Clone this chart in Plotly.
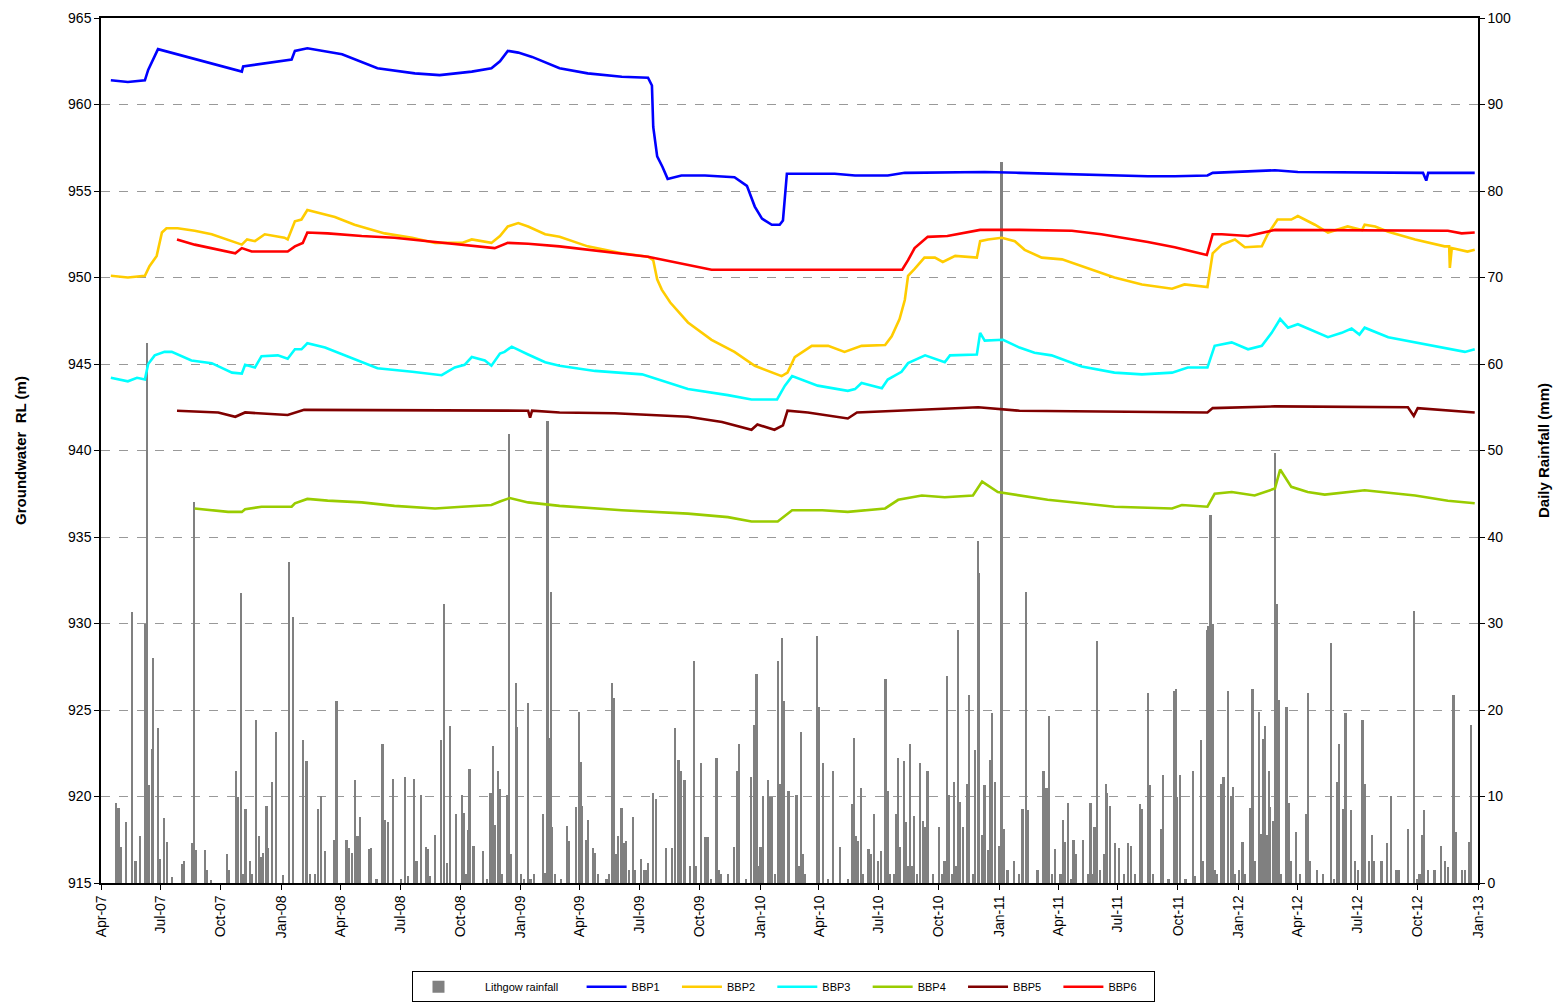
import plotly.graph_objects as go
import pandas as pd

# quarterly ticks on the date axis
tick_dates = pd.date_range("2007-04-01", "2013-01-01", freq="QS-JAN")

# daily rainfall (mm)
rain_dates = [
    "2007-04-24", "2007-04-28", "2007-05-02", "2007-05-10", "2007-05-19", "2007-05-24", "2007-05-31",
    "2007-06-08", "2007-06-11", "2007-06-14", "2007-06-18", "2007-06-20", "2007-06-27", "2007-07-01",
    "2007-07-06", "2007-07-11", "2007-07-19", "2007-08-03", "2007-08-06", "2007-08-19", "2007-08-21",
    "2007-08-25", "2007-09-07", "2007-09-10", "2007-09-16", "2007-10-11", "2007-10-13", "2007-10-25",
    "2007-10-27", "2007-11-01", "2007-11-04", "2007-11-08", "2007-11-15", "2007-11-18", "2007-11-24",
    "2007-11-28", "2007-12-02", "2007-12-05", "2007-12-10", "2007-12-12", "2007-12-19", "2007-12-24",
    "2008-01-04", "2008-01-13", "2008-01-20", "2008-02-04", "2008-02-09", "2008-02-14", "2008-02-22",
    "2008-02-27", "2008-03-02", "2008-03-08", "2008-03-22", "2008-03-26", "2008-04-10", "2008-04-14",
    "2008-04-19", "2008-04-23", "2008-04-27", "2008-05-01", "2008-05-14", "2008-05-17", "2008-05-26",
    "2008-06-04", "2008-06-07", "2008-06-12", "2008-06-20", "2008-07-02", "2008-07-08", "2008-07-13",
    "2008-07-22", "2008-07-26", "2008-08-02", "2008-08-09", "2008-08-12", "2008-08-16", "2008-08-23",
    "2008-09-01", "2008-09-06", "2008-09-10", "2008-09-15", "2008-09-24", "2008-10-03", "2008-10-06",
    "2008-10-09", "2008-10-12", "2008-10-15", "2008-10-21", "2008-11-04", "2008-11-10", "2008-11-16",
    "2008-11-18", "2008-11-20", "2008-11-23", "2008-11-27", "2008-11-30", "2008-12-04", "2008-12-11",
    "2008-12-14", "2008-12-17", "2008-12-25", "2008-12-27",
    "2009-01-01", "2009-01-06", "2009-01-12", "2009-01-16", "2009-01-21", "2009-02-04", "2009-02-07",
    "2009-02-11", "2009-02-13", "2009-02-16", "2009-02-18", "2009-02-23", "2009-03-04", "2009-03-13",
    "2009-03-16", "2009-03-27", "2009-03-31", "2009-04-03", "2009-04-05", "2009-04-11", "2009-04-14",
    "2009-04-21", "2009-04-25", "2009-04-29", "2009-05-12", "2009-05-16", "2009-05-21", "2009-05-24",
    "2009-05-27", "2009-05-30", "2009-06-04", "2009-06-08", "2009-06-11", "2009-06-15", "2009-06-21",
    "2009-06-24", "2009-07-04", "2009-07-08", "2009-07-12", "2009-07-14", "2009-07-22", "2009-07-27",
    "2009-08-11", "2009-08-20", "2009-08-25", "2009-08-30", "2009-09-02", "2009-09-08", "2009-09-17",
    "2009-09-22", "2009-09-26", "2009-10-03", "2009-10-10", "2009-10-14", "2009-10-18", "2009-10-27",
    "2009-10-30", "2009-11-03", "2009-11-13", "2009-11-23", "2009-11-27", "2009-11-30", "2009-12-11",
    "2009-12-18", "2009-12-23", "2009-12-27", "2009-12-30",
    "2010-01-02", "2010-01-06", "2010-01-13", "2010-01-16", "2010-01-19", "2010-01-24", "2010-01-29",
    "2010-02-01", "2010-02-04", "2010-02-07", "2010-02-14", "2010-02-26", "2010-03-01", "2010-03-05",
    "2010-03-08", "2010-03-11", "2010-03-29", "2010-04-01", "2010-04-07", "2010-04-15", "2010-04-23",
    "2010-05-04", "2010-05-16", "2010-05-22", "2010-05-25", "2010-05-28", "2010-05-31", "2010-06-04",
    "2010-06-08", "2010-06-16", "2010-06-20", "2010-06-24", "2010-06-30", "2010-07-05", "2010-07-12",
    "2010-07-15", "2010-07-18", "2010-07-25", "2010-07-28", "2010-07-31", "2010-08-03", "2010-08-09",
    "2010-08-12", "2010-08-16", "2010-08-18", "2010-08-22", "2010-08-25", "2010-08-29", "2010-09-03",
    "2010-09-07", "2010-09-10", "2010-09-14", "2010-09-22", "2010-10-02", "2010-10-06", "2010-10-10",
    "2010-10-14", "2010-10-17", "2010-10-21", "2010-10-24", "2010-10-27", "2010-10-30", "2010-11-03",
    "2010-11-07", "2010-11-13", "2010-11-16", "2010-11-22", "2010-11-26", "2010-11-30", "2010-12-02",
    "2010-12-06", "2010-12-10", "2010-12-16", "2010-12-18", "2010-12-22", "2010-12-26",
    "2011-01-01", "2011-01-05", "2011-01-09", "2011-01-14", "2011-01-24", "2011-02-01", "2011-02-06",
    "2011-02-12", "2011-02-15", "2011-03-01", "2011-03-10", "2011-03-13", "2011-03-16", "2011-03-19",
    "2011-03-23", "2011-03-28", "2011-04-05", "2011-04-09", "2011-04-12", "2011-04-16", "2011-04-22",
    "2011-04-25", "2011-04-29", "2011-05-09", "2011-05-17", "2011-05-21", "2011-05-24", "2011-05-27",
    "2011-05-31", "2011-06-04", "2011-06-10", "2011-06-13", "2011-06-15", "2011-06-20", "2011-06-27",
    "2011-07-03", "2011-07-11", "2011-07-17", "2011-07-22", "2011-07-28", "2011-08-04", "2011-08-08",
    "2011-08-17", "2011-08-19", "2011-08-24", "2011-09-06", "2011-09-09", "2011-09-17", "2011-09-25",
    "2011-09-28", "2011-09-30", "2011-10-05", "2011-10-13", "2011-10-24", "2011-10-27", "2011-11-06",
    "2011-11-09", "2011-11-15", "2011-11-17", "2011-11-20", "2011-11-24", "2011-11-27", "2011-11-30",
    "2011-12-06", "2011-12-10", "2011-12-17", "2011-12-21", "2011-12-24", "2011-12-28",
    "2012-01-03", "2012-01-08", "2012-01-12", "2012-01-19", "2012-01-23", "2012-01-27", "2012-02-02",
    "2012-02-05", "2012-02-08", "2012-02-11", "2012-02-14", "2012-02-17", "2012-02-19", "2012-02-23",
    "2012-02-27", "2012-03-01", "2012-03-04", "2012-03-07", "2012-03-15", "2012-03-18", "2012-03-21",
    "2012-03-30", "2012-04-05", "2012-04-14", "2012-04-17", "2012-04-20", "2012-04-30", "2012-05-10",
    "2012-05-22", "2012-05-26", "2012-05-31", "2012-06-03", "2012-06-09", "2012-06-13", "2012-06-21",
    "2012-06-28", "2012-07-02", "2012-07-09", "2012-07-12", "2012-07-19", "2012-07-23", "2012-07-26",
    "2012-08-07", "2012-08-15", "2012-08-21", "2012-08-30", "2012-09-02", "2012-09-16", "2012-09-26",
    "2012-09-30", "2012-10-04", "2012-10-08", "2012-10-11", "2012-10-17", "2012-10-27", "2012-11-06",
    "2012-11-12", "2012-11-16", "2012-11-25", "2012-11-29", "2012-12-08", "2012-12-12", "2012-12-19",
    "2012-12-22",
]
rain_mm = [
    9.2, 8.7, 4.2, 7.1, 31.3, 2.5, 5.4,
    29.9, 62.4, 11.3, 15.5, 26.0, 17.9, 2.8,
    7.5, 4.7, 0.7, 2.2, 2.5, 4.6, 44.1,
    3.8, 3.8, 1.5, 0.3, 3.3, 1.5, 13.0,
    9.9, 33.5, 1.0, 8.6, 2.6, 1.0, 18.9,
    5.4, 3.0, 3.5, 8.9, 4.0, 11.7, 17.5,
    0.9, 37.1, 30.8, 16.5, 14.1, 1.0, 1.0,
    8.6, 10.1, 3.7, 5.0, 21.0, 5.0, 4.0,
    3.5, 11.9, 5.4, 7.6, 3.9, 4.1, 0.5,
    16.1, 7.3, 7.1, 12.0, 0.5, 12.3, 0.8,
    12.0, 2.5, 10.2, 4.2, 3.9, 0.8, 5.6,
    16.5, 32.3, 2.3, 18.1, 8.0, 10.2, 8.1,
    1.0, 6.1, 13.2, 4.3, 3.7, 0.5, 10.4,
    6.1, 15.8, 6.7, 13.0, 10.9, 1.0, 10.2,
    51.9, 3.3, 23.1, 18.0,
    1.0, 0.5, 20.8, 0.5, 1.0, 8.0, 1.2,
    53.4, 16.8, 33.6, 6.5, 1.0, 0.5, 6.6,
    4.8, 8.8, 19.8, 14.0, 8.9, 5.0, 7.3,
    4.1, 3.5, 1.0, 0.5, 1.0, 23.1, 21.4,
    3.4, 5.4, 8.7, 4.6, 4.9, 1.5, 7.6,
    1.5, 2.8, 1.5, 1.5, 2.3, 10.4, 9.7,
    4.0, 4.0, 17.9, 14.2, 12.9, 11.9, 2.0,
    25.7, 2.0, 13.9, 5.3, 5.3, 0.5, 14.5,
    1.5, 1.0, 1.0, 4.2, 12.9, 16.1, 0.5,
    12.3, 18.3, 24.2, 2.0,
    4.2, 10.1, 11.9, 9.9, 9.9, 1.0, 25.7,
    11.5, 28.3, 21.0, 10.6, 10.2, 2.0, 17.5,
    3.4, 1.0, 28.6, 20.3, 13.9, 0.5, 13.0,
    4.2, 0.5, 9.1, 16.8, 5.4, 4.9, 11.0,
    1.0, 3.9, 3.4, 8.0, 2.5, 3.7, 23.6,
    10.6, 1.0, 1.0, 8.0, 14.4, 4.2, 14.1,
    7.1, 2.0, 16.1, 2.0, 7.7, 1.0, 13.9,
    7.2, 6.5, 12.9, 1.0, 6.5, 1.0, 2.5,
    23.9, 10.2, 1.0, 11.7, 2.0, 29.3, 9.4,
    6.5, 11.5, 21.7, 1.0, 15.4, 39.5, 35.8,
    5.6, 11.3, 3.8, 14.2, 19.6, 11.7,
    4.3, 83.4, 6.3, 1.5, 2.6, 1.0, 8.6,
    33.6, 8.4, 1.5, 13.0, 11.0, 11.0, 19.3,
    1.0, 3.9, 1.0, 7.3, 4.7, 9.2, 0.5,
    5.0, 3.3, 5.0, 1.0, 9.2, 1.0, 6.5,
    28.0, 1.5, 3.3, 11.5, 10.4, 8.9, 4.6,
    4.1, 1.0, 4.6, 4.3, 1.0, 9.1, 8.6,
    22.0, 11.3, 1.0, 6.3, 12.5, 0.5, 22.2,
    22.4, 10.0, 12.5, 0.5, 13.0, 0.8, 16.5,
    2.5, 29.3, 29.7, 42.5, 30.0, 1.5, 1.0,
    11.5, 12.3, 22.2, 10.1, 11.1, 1.0,
    1.5, 4.7, 1.0, 8.7, 22.4, 2.5, 19.8,
    5.7, 16.6, 18.1, 5.5, 12.9, 8.8, 7.2,
    49.7, 32.2, 21.1, 1.0, 20.4, 9.2, 2.5,
    5.9, 1.0, 8.0, 22.0, 2.5, 1.5, 1.0,
    27.8, 0.5, 11.7, 16.1, 8.6, 19.6, 8.4,
    2.5, 1.5, 18.9, 11.5, 2.5, 5.6, 2.5,
    2.5, 4.6, 10.1, 1.5, 1.5, 6.3, 31.4,
    0.5, 1.0, 5.6, 8.4, 1.5, 1.5, 4.3,
    2.5, 1.8, 21.7, 5.9, 1.5, 1.5, 4.7,
    18.3,
]

# groundwater levels (m RL)
bbp1_dates = ["2007-04-16", "2007-05-12", "2007-06-07", "2007-06-12", "2007-06-27", "2007-11-02",
              "2007-11-04", "2008-01-17", "2008-01-22", "2008-02-10", "2008-04-03", "2008-05-27",
              "2008-07-23", "2008-08-30", "2008-10-18", "2008-11-17", "2008-11-30", "2008-12-12",
              "2008-12-28", "2009-01-18", "2009-03-01", "2009-04-13", "2009-06-04", "2009-07-14",
              "2009-07-20", "2009-07-22", "2009-07-28", "2009-08-05", "2009-08-13", "2009-09-03",
              "2009-10-09", "2009-11-23", "2009-12-12", "2009-12-24", "2010-01-04", "2010-01-19",
              "2010-01-31", "2010-02-05", "2010-02-11", "2010-04-25", "2010-05-26", "2010-07-15",
              "2010-08-10", "2010-12-10", "2011-02-01", "2011-05-07", "2011-06-26", "2011-08-16",
              "2011-09-26", "2011-11-15", "2011-11-23", "2012-02-26", "2012-04-01", "2012-10-09",
              "2012-10-14", "2012-10-17", "2012-12-27"]
bbp1_rl = [961.4, 961.3, 961.4, 962.0, 963.2, 961.9,
           962.2, 962.6, 963.1, 963.25, 962.9, 962.1,
           961.8, 961.7, 961.9, 962.1, 962.5, 963.1,
           963.0, 962.75, 962.1, 961.8, 961.6, 961.55,
           961.1, 958.7, 957.0, 956.4, 955.7, 955.9,
           955.9, 955.8, 955.3, 954.1, 953.4, 953.05,
           953.05, 953.3, 956.0, 956.0, 955.9, 955.9,
           956.05, 956.1, 956.05, 955.95, 955.9, 955.85,
           955.85, 955.9, 956.05, 956.2, 956.1, 956.05,
           955.6, 956.05, 956.05]

bbp2_dates = ["2007-04-16", "2007-05-12", "2007-06-07", "2007-06-14", "2007-06-25", "2007-07-03",
              "2007-07-10", "2007-07-27", "2007-08-22", "2007-09-17", "2007-11-02", "2007-11-10",
              "2007-11-22", "2007-12-07", "2008-01-06", "2008-01-11", "2008-01-22", "2008-02-01",
              "2008-02-10", "2008-03-03", "2008-03-23", "2008-04-22", "2008-06-07", "2008-07-19",
              "2008-08-23", "2008-10-03", "2008-10-18", "2008-11-17", "2008-11-30", "2008-12-12",
              "2008-12-28", "2009-01-12", "2009-02-07", "2009-03-01", "2009-04-13", "2009-06-04",
              "2009-07-14", "2009-07-22", "2009-07-28", "2009-08-04", "2009-08-17", "2009-09-13",
              "2009-10-19", "2009-11-23", "2009-12-24", "2010-02-03", "2010-02-12", "2010-02-23",
              "2010-03-21", "2010-04-15", "2010-05-10", "2010-06-05", "2010-07-11", "2010-07-21",
              "2010-08-02", "2010-08-10", "2010-08-15", "2010-08-25", "2010-09-09", "2010-09-25",
              "2010-10-07", "2010-10-26", "2010-11-28", "2010-12-03", "2010-12-15", "2011-01-05",
              "2011-01-25", "2011-02-09", "2011-03-07", "2011-04-07", "2011-05-07", "2011-05-27",
              "2011-06-26", "2011-08-07", "2011-09-22", "2011-10-11", "2011-11-15", "2011-11-23",
              "2011-12-07", "2011-12-27", "2012-01-11", "2012-02-06", "2012-02-15", "2012-03-01",
              "2012-03-22", "2012-04-01", "2012-04-27", "2012-05-17", "2012-06-16", "2012-07-08",
              "2012-07-12", "2012-07-28", "2012-08-17", "2012-09-27", "2012-11-11", "2012-11-18",
              "2012-11-19", "2012-11-22", "2012-12-16", "2012-12-27"]
bbp2_rl = [950.1, 950.0, 950.1, 950.65, 951.25, 952.6,
           952.85, 952.85, 952.7, 952.5, 951.9, 952.2,
           952.1, 952.5, 952.3, 952.2, 953.25, 953.35,
           953.9, 953.7, 953.5, 953.05, 952.55, 952.3,
           952.0, 952.0, 952.2, 952.0, 952.4, 952.95,
           953.15, 952.95, 952.5, 952.35, 951.8, 951.4,
           951.2, 951.0, 949.9, 949.3, 948.55, 947.4,
           946.4, 945.7, 944.9, 944.3, 944.5, 945.4,
           946.05, 946.05, 945.7, 946.05, 946.1, 946.6,
           947.6, 948.7, 950.1, 950.5, 951.15, 951.15,
           950.9, 951.25, 951.15, 952.1, 952.2, 952.3,
           952.1, 951.6, 951.15, 951.05, 950.65, 950.4,
           950.0, 949.6, 949.35, 949.6, 949.45, 951.4,
           951.9, 952.2, 951.75, 951.8, 952.5, 953.35,
           953.35, 953.55, 953.05, 952.6, 952.95, 952.75,
           953.05, 952.95, 952.65, 952.2, 951.8, 951.8,
           950.55, 951.7, 951.5, 951.6]

bbp3_dates = ["2007-04-16", "2007-05-12", "2007-05-26", "2007-06-07", "2007-06-12", "2007-06-22",
              "2007-07-07", "2007-07-18", "2007-08-17", "2007-09-17", "2007-10-18", "2007-11-02",
              "2007-11-07", "2007-11-22", "2007-12-02", "2007-12-27", "2008-01-11", "2008-01-22",
              "2008-02-01", "2008-02-10", "2008-03-08", "2008-04-07", "2008-05-03", "2008-05-27",
              "2008-07-19", "2008-09-02", "2008-09-22", "2008-10-07", "2008-10-18", "2008-11-07",
              "2008-11-17", "2008-11-30", "2008-12-07", "2008-12-18", "2009-01-12", "2009-02-07",
              "2009-03-01", "2009-04-24", "2009-07-05", "2009-09-13", "2009-11-13", "2009-12-19",
              "2010-01-27", "2010-02-08", "2010-02-19", "2010-03-06", "2010-03-30", "2010-05-15",
              "2010-05-26", "2010-06-05", "2010-07-06", "2010-07-15", "2010-08-05", "2010-08-15",
              "2010-09-10", "2010-10-10", "2010-10-18", "2010-11-28", "2010-12-03", "2010-12-10",
              "2011-01-07", "2011-02-01", "2011-02-24", "2011-03-22", "2011-04-11", "2011-05-07",
              "2011-06-26", "2011-08-07", "2011-09-22", "2011-10-16", "2011-11-15", "2011-11-26",
              "2011-12-22", "2012-01-16", "2012-02-06", "2012-02-21", "2012-03-05", "2012-03-17",
              "2012-04-01", "2012-05-17", "2012-06-07", "2012-06-22", "2012-07-04", "2012-07-12",
              "2012-08-17", "2012-09-27", "2012-10-27", "2012-12-12", "2012-12-27"]
bbp3_rl = [944.2, 944.0, 944.2, 944.1, 945.0, 945.5,
           945.7, 945.7, 945.2, 945.05, 944.5, 944.45,
           944.95, 944.8, 945.45, 945.5, 945.3, 945.85,
           945.85, 946.2, 945.95, 945.5, 945.1, 944.75,
           944.55, 944.35, 944.8, 944.95, 945.4, 945.2,
           944.9, 945.6, 945.7, 946.0, 945.55, 945.1,
           944.9, 944.6, 944.4, 943.55, 943.2, 942.95,
           942.95, 943.75, 944.3, 944.1, 943.75, 943.45,
           943.55, 943.9, 943.6, 944.1, 944.55, 945.05,
           945.5, 945.1, 945.5, 945.55, 946.8, 946.35,
           946.4, 945.95, 945.65, 945.5, 945.2, 944.85,
           944.5, 944.4, 944.5, 944.8, 944.8, 946.05,
           946.25, 945.85, 946.05, 946.8, 947.6, 947.1,
           947.3, 946.55, 946.8, 947.05, 946.7, 947.1,
           946.55, 946.25, 946.05, 945.7, 945.85]

bbp4_dates = ["2007-08-22", "2007-10-12", "2007-11-02", "2007-11-07", "2007-12-02", "2008-01-17",
              "2008-01-22", "2008-02-10", "2008-03-12", "2008-05-03", "2008-06-22", "2008-08-23",
              "2008-10-03", "2008-11-17", "2008-11-30", "2008-12-15", "2009-01-12", "2009-03-01",
              "2009-06-04", "2009-09-13", "2009-11-13", "2009-12-19", "2010-01-28", "2010-02-19",
              "2010-04-06", "2010-05-15", "2010-07-11", "2010-07-31", "2010-09-05", "2010-10-10",
              "2010-11-22", "2010-12-06", "2010-12-30", "2011-02-01", "2011-03-16", "2011-05-07",
              "2011-06-26", "2011-09-22", "2011-10-07", "2011-11-15", "2011-11-26", "2011-12-22",
              "2012-01-26", "2012-02-26", "2012-03-05", "2012-03-22", "2012-04-16", "2012-05-12",
              "2012-06-16", "2012-07-12", "2012-09-27", "2012-11-16", "2012-12-27"]
bbp4_rl = [936.65, 936.45, 936.45, 936.6, 936.75, 936.75,
           936.95, 937.2, 937.1, 937.0, 936.8, 936.65,
           936.75, 936.85, 937.05, 937.25, 937.0, 936.8,
           936.55, 936.35, 936.15, 935.9, 935.9, 936.55,
           936.55, 936.45, 936.65, 937.15, 937.4, 937.3,
           937.4, 938.2, 937.6, 937.4, 937.15, 936.95,
           936.75, 936.65, 936.85, 936.75, 937.5, 937.6,
           937.4, 937.8, 938.9, 937.9, 937.6, 937.45,
           937.6, 937.7, 937.4, 937.1, 936.95]

bbp5_dates = ["2007-07-26", "2007-09-27", "2007-10-23", "2007-11-07", "2008-01-11", "2008-02-05",
              "2009-01-12", "2009-01-15", "2009-01-18", "2009-03-01", "2009-05-24", "2009-09-13",
              "2009-11-04", "2009-12-19", "2009-12-28", "2010-01-23", "2010-02-05", "2010-02-12",
              "2010-03-15", "2010-05-15", "2010-05-29", "2010-07-26", "2010-11-30", "2011-02-01",
              "2011-11-15", "2011-11-23", "2012-02-26", "2012-09-16", "2012-09-25", "2012-10-01",
              "2012-12-27"]
bbp5_rl = [942.3, 942.2, 941.95, 942.2, 942.05, 942.35,
           942.3, 941.9, 942.3, 942.2, 942.15, 941.95,
           941.65, 941.2, 941.5, 941.2, 941.45, 942.3,
           942.2, 941.85, 942.2, 942.3, 942.5, 942.3,
           942.2, 942.45, 942.55, 942.5, 942.0, 942.45,
           942.2]

bbp6_dates = ["2007-07-26", "2007-08-22", "2007-10-23", "2007-11-02", "2007-11-17", "2008-01-11",
              "2008-01-22", "2008-02-03", "2008-02-10", "2008-03-12", "2008-05-03", "2008-06-22",
              "2008-08-12", "2008-10-03", "2008-11-22", "2008-12-12", "2009-01-12", "2009-03-01",
              "2009-06-04", "2009-07-14", "2009-10-19", "2010-08-06", "2010-08-15", "2010-08-25",
              "2010-09-14", "2010-10-14", "2010-12-03", "2011-02-01", "2011-04-22", "2011-06-06",
              "2011-08-16", "2011-09-26", "2011-11-14", "2011-11-23", "2011-12-07", "2012-01-16",
              "2012-02-26", "2012-11-16", "2012-12-07", "2012-12-27"]
bbp6_rl = [952.2, 951.9, 951.4, 951.7, 951.5, 951.5,
           951.8, 952.0, 952.6, 952.55, 952.4, 952.3,
           952.1, 951.9, 951.7, 952.0, 951.95, 951.8,
           951.4, 951.2, 950.45, 950.45, 951.0, 951.7,
           952.35, 952.4, 952.75, 952.75, 952.7, 952.5,
           952.05, 951.75, 951.3, 952.5, 952.5, 952.4,
           952.75, 952.7, 952.55, 952.6]

font = "Liberation Sans, Arial, sans-serif"
day_ms = 86400000
pad = "\u00a0"

fig = go.Figure()

# rainfall on the base axis so the bars sit under the level lines
fig.add_trace(go.Bar(
    x=pd.to_datetime(rain_dates), y=rain_mm, name=pad * 7 + "Lithgow rainfall" + pad * 6,
    marker=dict(color="#808080", line=dict(width=0)),
    width=[2.6 * day_ms] * len(rain_dates), yaxis="y",
))

series = [
    ("BBP1", bbp1_dates, bbp1_rl, "#0000FF"),
    ("BBP2", bbp2_dates, bbp2_rl, "#FFCC00"),
    ("BBP3", bbp3_dates, bbp3_rl, "#00FFFF"),
    ("BBP4", bbp4_dates, bbp4_rl, "#99CC00"),
    ("BBP5", bbp5_dates, bbp5_rl, "#800000"),
    ("BBP6", bbp6_dates, bbp6_rl, "#FF0000"),
]
for name, d, v, c in series:
    fig.add_trace(go.Scatter(x=pd.to_datetime(d), y=v, name=name + pad * 4, mode="lines",
                             line=dict(color=c, width=2.6), yaxis="y2"))

fig.update_layout(
    template="none",
    width=1554, height=998,
    margin=dict(l=93, r=84, t=10, b=123, autoexpand=False),
    paper_bgcolor="white", plot_bgcolor="white",
    font=dict(family=font, size=14, color="black"),
    bargap=0,
    showlegend=True,
    legend=dict(orientation="h", x=0.496, xanchor="center", y=-0.102, yanchor="top",
                bordercolor="black", borderwidth=1, bgcolor="white",
                font=dict(size=11), itemwidth=40, traceorder="normal"),
    xaxis=dict(
        type="date", range=["2007-04-01", "2013-01-01"],
        tickvals=tick_dates, ticktext=[t.strftime("%b-%y") for t in tick_dates],
        tickangle=-90, ticks="outside", ticklen=5, tickcolor="black",
        showline=True, linecolor="black", linewidth=1.5, mirror=True,
        showgrid=False, zeroline=False, tickfont=dict(size=14),
    ),
    yaxis=dict(
        side="right", range=[0, 100], dtick=10, tick0=0,
        ticks="outside", ticklen=5, tickcolor="black", ticklabeloverflow="allow",
        showline=True, linecolor="black", linewidth=1.5,
        showgrid=True, gridcolor="#999999", griddash="dash", gridwidth=1,
        zeroline=False,
        title=dict(text="<b>Daily Rainfall (mm)</b>", font=dict(size=15), standoff=28),
    ),
    yaxis2=dict(
        overlaying="y", side="left", anchor="x", range=[915, 965], dtick=5, tick0=915,
        ticks="outside", ticklen=5, tickcolor="black", ticklabeloverflow="allow",
        showline=True, linecolor="black", linewidth=1.5,
        showgrid=False, zeroline=False,
        title=dict(text="<b>Groundwater  RL (m)</b>", font=dict(size=15), standoff=38),
    ),
)

fig.write_html("out.html")
